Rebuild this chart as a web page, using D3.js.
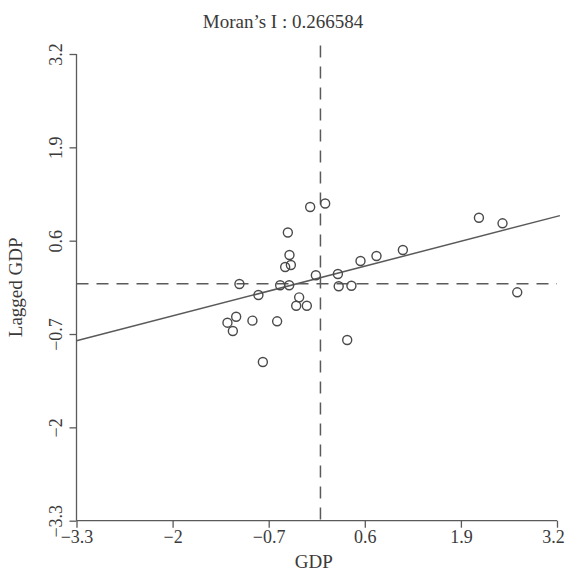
<!DOCTYPE html>
<html>
<head>
<meta charset="utf-8">
<script src="https://cdn.jsdelivr.net/npm/d3@7"></script>
<style>
  html, body { margin: 0; padding: 0; background: #ffffff; }
  svg { display: block; }
  text { font-family: "Liberation Serif", "Times New Roman", serif; fill: #3a3a3a; }
</style>
</head>
<body>
<script>
// ---- data ----
const titleText = "Moran\u2019s I : 0.266584";
const xLabel = "GDP";
const yLabel = "Lagged GDP";
const tickValues = [-3.3, -2, -0.7, 0.6, 1.9, 3.2];
const tickLabels = ["\u22123.3", "\u22122", "\u22120.7", "0.6", "1.9", "3.2"];
const gdp =    [-0.139, 0.064, -0.441, -0.419, -0.477, -0.400, -1.096, -0.545, -0.423, -0.062,
                 0.236, 0.542, 0.758, 1.115, 0.247, 0.419, -0.839, -0.288, -0.328, -0.184,
                -1.140, -1.258, -1.185, -0.920, -0.586, 0.362, -0.779, 2.144, 2.463, 2.662];
const lagged = [ 1.069, 1.118, 0.714, 0.401, 0.233, 0.261, -0.003, -0.021, -0.021, 0.118,
                 0.136, 0.317, 0.387, 0.470, -0.035, -0.027, -0.157, -0.189, -0.306, -0.306,
                -0.459, -0.542, -0.658, -0.514, -0.523, -0.783, -1.090, 0.920, 0.842, -0.119];
const slope = 0.266584;
const intercept = 0.085;
const meanX = 0, meanY = 0;

// ---- layout ----
const W = 567, H = 583;
const svg = d3.select("body").append("svg").attr("width", W).attr("height", H);
svg.append("rect").attr("width", W).attr("height", H).attr("fill", "#ffffff");

const x = d3.scaleLinear().domain([-3.3, 3.2]).range([76.5, 557]);
const y = d3.scaleLinear().domain([-3.3, 3.2]).range([520.7, 54]);
const lineCol = "#5a5a5a";

// title
svg.append("text").attr("x", 283).attr("y", 28).attr("text-anchor", "middle")
  .attr("font-size", 19).text(titleText);

// x axis
const xAxis = d3.axisBottom(x).tickValues(tickValues).tickSize(7).tickPadding(3)
  .tickFormat((d, i) => tickLabels[i]);
const gx = svg.append("g").attr("transform", `translate(0,${y(-3.3)})`).call(xAxis);
gx.select(".domain").attr("stroke", lineCol).attr("stroke-width", 1.3).attr("d", `M${x(-3.3)},0H${x(3.2)}`);
gx.selectAll(".tick line").attr("stroke", lineCol).attr("stroke-width", 1.3);
gx.selectAll(".tick text").attr("font-size", 18).attr("fill", "#3a3a3a")
  .attr("font-family", "Liberation Serif, serif")
  .attr("dx", (d, i) => i === tickValues.length - 1 ? -4 : 0);

// y axis
const yAxis = d3.axisLeft(y).tickValues(tickValues).tickSize(7).tickPadding(4)
  .tickFormat((d, i) => tickLabels[i]);
const gy = svg.append("g").attr("transform", `translate(${x(-3.3)},0)`).call(yAxis);
gy.select(".domain").attr("stroke", lineCol).attr("stroke-width", 1.3).attr("d", `M0,${y(-3.3)}V${y(3.2)}`);
gy.selectAll(".tick line").attr("stroke", lineCol).attr("stroke-width", 1.3);
gy.selectAll(".tick text").attr("font-size", 18).attr("fill", "#3a3a3a")
  .attr("font-family", "Liberation Serif, serif")
  .attr("text-anchor", "middle").attr("x", null).attr("dy", null)
  .attr("transform", "translate(-15,0) rotate(-90)");

// axis titles
svg.append("text").attr("x", (x(-3.3) + x(3.2)) / 2 - 3).attr("y", 568).attr("text-anchor", "middle")
  .attr("font-size", 19).text(xLabel);
svg.append("text").attr("transform", `translate(22,${(y(-3.3) + y(3.2)) / 2}) rotate(-90)`)
  .attr("text-anchor", "middle").attr("font-size", 19).text(yLabel);

// reference dashed lines
svg.append("line").attr("x1", x(-3.3)).attr("x2", x(3.2)).attr("y1", y(meanY)).attr("y2", y(meanY))
  .attr("stroke", lineCol).attr("stroke-width", 1.5).attr("stroke-dasharray", "12,8");
svg.append("line").attr("x1", x(meanX)).attr("x2", x(meanX)).attr("y1", y(3.32)).attr("y2", y(-3.3))
  .attr("stroke", lineCol).attr("stroke-width", 1.5).attr("stroke-dasharray", "12,9");

// regression line
svg.append("line")
  .attr("x1", x(-3.3)).attr("y1", y(intercept + slope * -3.3))
  .attr("x2", x(3.24)).attr("y2", y(intercept + slope * 3.24))
  .attr("stroke", lineCol).attr("stroke-width", 1.5);

// points
svg.append("g").selectAll("circle").data(gdp.map((g, i) => [g, lagged[i]])).join("circle")
  .attr("cx", d => x(d[0])).attr("cy", d => y(d[1])).attr("r", 4.5)
  .attr("fill", "none").attr("stroke", "#4a4a4a").attr("stroke-width", 1.4);
</script>
</body>
</html>
